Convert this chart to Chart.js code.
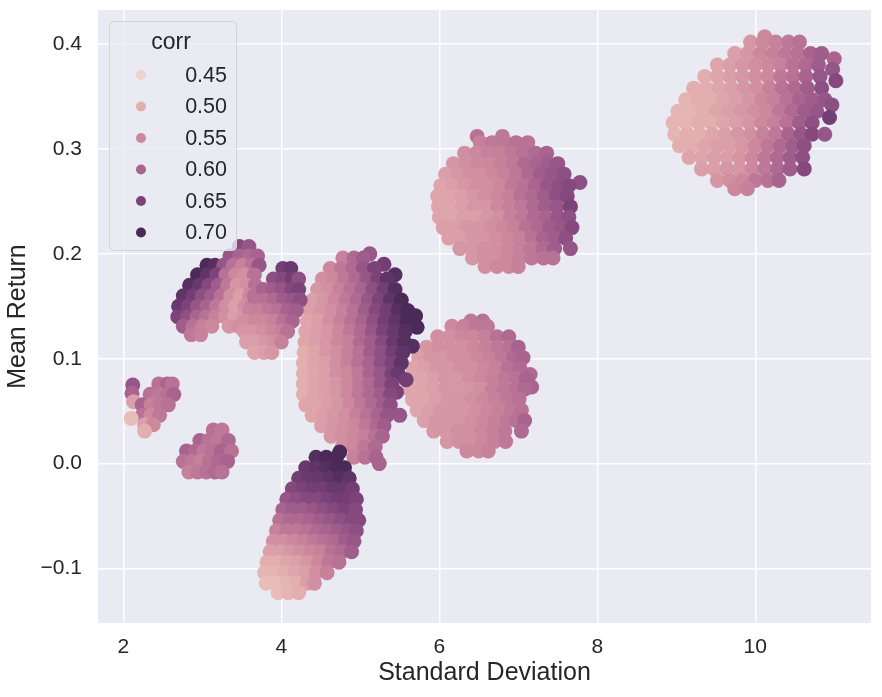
<!DOCTYPE html>
<html>
<head>
<meta charset="utf-8">
<script src="https://cdn.jsdelivr.net/npm/chart.js@4.4.1/dist/chart.umd.min.js"></script>
<style>
  html, body { margin: 0; padding: 0; background: #ffffff; }
  #wrap { width: 882px; height: 697px; }
</style>
</head>
<body>
<div id="wrap"><canvas id="chart" width="882" height="697"></canvas></div>
<script>
// Each row: [mean return, [standard deviations], [corr for each point]]
const clusterA = [
  [0.407, [10.12], [.55]],
  [0.402, [9.94, 10.10, 10.26, 10.42, 10.56], [.53, .55, .56, .57, .58]],
  [0.391, [9.74, 9.90, 10.06, 10.22, 10.38, 10.54, 10.70, 10.84], [.52, .53, .55, .56, .57, .58, .60, .61]],
  [0.386, [11.00], [.60]],
  [0.380, [9.52, 9.68, 9.84, 10.00, 10.16, 10.32, 10.48, 10.64, 10.80], [.51, .52, .53, .54, .55, .56, .58, .59, .61]],
  [0.376, [10.98], [.62]],
  [0.369, [9.36, 9.52, 9.68, 9.84, 10.00, 10.16, 10.32, 10.48, 10.64, 10.82], [.50, .51, .52, .53, .54, .55, .57, .58, .60, .62]],
  [0.365, [11.02], [.64]],
  [0.358, [9.22, 9.38, 9.54, 9.70, 9.86, 10.02, 10.18, 10.34, 10.50, 10.66, 10.84], [.50, .50, .51, .52, .53, .54, .56, .58, .59, .61, .63]],
  [0.347, [9.12, 9.28, 9.44, 9.60, 9.76, 9.92, 10.08, 10.24, 10.40, 10.56, 10.72, 10.88], [.49, .50, .50, .51, .52, .53, .55, .56, .58, .60, .61, .62]],
  [0.342, [10.97], [.63]],
  [0.336, [9.02, 9.18, 9.34, 9.50, 9.66, 9.82, 9.98, 10.14, 10.30, 10.46, 10.62, 10.78], [.49, .49, .50, .51, .52, .53, .54, .55, .57, .59, .61, .62]],
  [0.330, [10.94], [.66]],
  [0.325, [8.96, 9.12, 9.28, 9.44, 9.60, 9.76, 9.92, 10.08, 10.24, 10.40, 10.56, 10.72], [.49, .49, .50, .50, .51, .52, .53, .55, .56, .58, .61, .63]],
  [0.314, [8.98, 9.14, 9.30, 9.46, 9.62, 9.78, 9.94, 10.10, 10.26, 10.42, 10.58, 10.72, 10.88], [.49, .50, .50, .51, .52, .53, .54, .56, .57, .60, .62, .64, .62]],
  [0.303, [9.04, 9.20, 9.36, 9.52, 9.68, 9.84, 10.00, 10.16, 10.32, 10.48, 10.62], [.50, .50, .51, .52, .52, .53, .55, .57, .59, .61, .63]],
  [0.292, [9.16, 9.32, 9.48, 9.64, 9.80, 9.96, 10.12, 10.28, 10.44, 10.60], [.51, .51, .52, .52, .53, .55, .57, .59, .61, .63]],
  [0.281, [9.32, 9.48, 9.64, 9.80, 9.96, 10.12, 10.28, 10.44, 10.62], [.52, .52, .53, .53, .55, .57, .59, .61, .64]],
  [0.270, [9.52, 9.68, 9.84, 10.00, 10.16, 10.30], [.53, .54, .55, .57, .58, .60]],
  [0.262, [9.74, 9.90], [.55, .56]]
];

const clusterB = [
  [0.312, [6.48, 6.80], [.58, .57]],
  [0.306, [6.52, 6.67, 6.82, 6.97, 7.12], [.56, .57, .57, .58, .58]],
  [0.296, [6.32, 6.47, 6.62, 6.77, 6.92, 7.07, 7.22, 7.36], [.54, .55, .56, .56, .57, .58, .59, .60]],
  [0.286, [6.18, 6.33, 6.48, 6.63, 6.78, 6.93, 7.08, 7.23, 7.38, 7.50], [.53, .54, .55, .55, .56, .57, .59, .60, .61, .62]],
  [0.276, [6.08, 6.23, 6.38, 6.53, 6.68, 6.83, 6.98, 7.13, 7.28, 7.43, 7.58], [.52, .53, .54, .54, .55, .56, .57, .59, .61, .62, .63]],
  [0.268, [7.78], [.63]],
  [0.265, [6.02, 6.17, 6.32, 6.47, 6.62, 6.77, 6.92, 7.07, 7.22, 7.37, 7.52, 7.64], [.51, .52, .53, .54, .54, .55, .57, .58, .60, .62, .63, .64]],
  [0.255, [5.98, 6.13, 6.28, 6.43, 6.58, 6.73, 6.88, 7.03, 7.18, 7.33, 7.48, 7.62], [.51, .51, .52, .53, .54, .55, .56, .58, .59, .61, .63, .64]],
  [0.245, [5.99, 6.14, 6.29, 6.44, 6.59, 6.74, 6.89, 7.04, 7.19, 7.34, 7.49, 7.66], [.51, .51, .52, .53, .53, .55, .56, .57, .59, .61, .62, .65]],
  [0.235, [6.00, 6.15, 6.30, 6.45, 6.60, 6.75, 6.90, 7.05, 7.20, 7.35, 7.50, 7.64], [.51, .51, .52, .52, .53, .54, .56, .57, .59, .60, .62, .63]],
  [0.225, [6.05, 6.20, 6.35, 6.50, 6.65, 6.80, 6.95, 7.10, 7.25, 7.40, 7.55, 7.68], [.52, .52, .53, .53, .54, .55, .56, .58, .59, .61, .62, .64]],
  [0.215, [6.12, 6.27, 6.42, 6.57, 6.72, 6.87, 7.02, 7.17, 7.32, 7.47, 7.60], [.52, .52, .53, .53, .54, .55, .56, .58, .60, .61, .63]],
  [0.205, [6.26, 6.41, 6.56, 6.71, 6.86, 7.01, 7.16, 7.31, 7.46, 7.66], [.53, .53, .54, .54, .55, .56, .57, .59, .61, .62]],
  [0.196, [6.42, 6.57, 6.72, 6.87, 7.02, 7.17, 7.32, 7.44], [.53, .54, .54, .55, .56, .57, .58, .58]],
  [0.188, [6.58, 6.73, 6.88, 7.00], [.54, .55, .55, .56]]
];

const clusterC = [
  [0.136, [6.40, 6.55], [.57, .58]],
  [0.131, [6.16, 6.31, 6.46, 6.61], [.55, .56, .57, .57]],
  [0.121, [5.98, 6.13, 6.28, 6.43, 6.58, 6.73, 6.88], [.54, .54, .55, .55, .56, .58, .59]],
  [0.111, [5.84, 5.99, 6.14, 6.29, 6.44, 6.59, 6.74, 6.89, 7.00], [.53, .54, .54, .54, .55, .56, .57, .58, .60]],
  [0.101, [5.74, 5.89, 6.04, 6.19, 6.34, 6.49, 6.64, 6.79, 6.94, 7.06], [.52, .53, .53, .54, .54, .55, .56, .57, .59, .60]],
  [0.091, [5.67, 5.82, 5.97, 6.12, 6.27, 6.42, 6.57, 6.72, 6.87, 7.02], [.51, .52, .53, .53, .54, .54, .55, .56, .58, .59]],
  [0.085, [7.15], [.59]],
  [0.081, [5.63, 5.78, 5.93, 6.08, 6.23, 6.38, 6.53, 6.68, 6.83, 6.98, 7.10], [.51, .51, .52, .53, .53, .54, .55, .56, .57, .58, .60]],
  [0.073, [7.17], [.60]],
  [0.071, [5.62, 5.77, 5.92, 6.07, 6.22, 6.37, 6.52, 6.67, 6.82, 6.97, 7.08], [.51, .51, .52, .53, .53, .53, .54, .56, .57, .58, .59]],
  [0.061, [5.66, 5.81, 5.96, 6.11, 6.26, 6.41, 6.56, 6.71, 6.86, 7.01], [.51, .51, .52, .53, .53, .54, .55, .56, .57, .58]],
  [0.051, [5.72, 5.87, 6.02, 6.17, 6.32, 6.47, 6.62, 6.77, 6.92, 7.04], [.51, .52, .53, .53, .53, .54, .55, .56, .57, .58]],
  [0.041, [5.81, 5.96, 6.11, 6.26, 6.41, 6.56, 6.71, 6.86, 6.98, 7.08], [.52, .53, .53, .53, .54, .55, .56, .57, .58, .60]],
  [0.031, [5.93, 6.08, 6.23, 6.38, 6.53, 6.68, 6.83, 7.04], [.53, .53, .54, .54, .55, .56, .57, .59]],
  [0.021, [6.10, 6.25, 6.40, 6.55, 6.70, 6.84], [.53, .54, .54, .55, .56, .57]],
  [0.012, [6.35, 6.50, 6.62], [.55, .55, .56]]
];

const clusterD = [
  [0.200, [5.12], [.62]],
  [0.196, [4.78, 4.92, 5.04], [.56, .59, .61]],
  [0.190, [5.30], [.66]],
  [0.186, [4.62, 4.76, 4.90, 5.04, 5.18], [.55, .57, .59, .62, .65]],
  [0.180, [5.44], [.69]],
  [0.176, [4.52, 4.66, 4.80, 4.94, 5.08, 5.22, 5.34], [.54, .55, .57, .59, .62, .65, .68]],
  [0.166, [4.46, 4.60, 4.74, 4.88, 5.02, 5.16, 5.30, 5.44], [.53, .54, .56, .58, .60, .63, .66, .69]],
  [0.156, [4.40, 4.54, 4.68, 4.82, 4.96, 5.10, 5.24, 5.38, 5.52], [.52, .53, .55, .57, .59, .62, .65, .68, .70]],
  [0.146, [4.36, 4.50, 4.64, 4.78, 4.92, 5.06, 5.20, 5.34, 5.48, 5.60], [.52, .53, .54, .56, .58, .61, .64, .66, .69, .70]],
  [0.141, [5.70], [.70]],
  [0.136, [4.33, 4.47, 4.61, 4.75, 4.89, 5.03, 5.17, 5.31, 5.45, 5.59], [.51, .52, .54, .56, .58, .60, .63, .66, .68, .70]],
  [0.130, [5.72], [.70]],
  [0.126, [4.31, 4.45, 4.59, 4.73, 4.87, 5.01, 5.15, 5.29, 5.43, 5.57], [.51, .52, .53, .55, .57, .59, .62, .65, .67, .69]],
  [0.116, [4.30, 4.44, 4.58, 4.72, 4.86, 5.00, 5.14, 5.28, 5.42, 5.56], [.51, .52, .53, .55, .56, .59, .61, .64, .67, .69]],
  [0.112, [5.66], [.69]],
  [0.106, [4.29, 4.43, 4.57, 4.71, 4.85, 4.99, 5.13, 5.27, 5.41, 5.54], [.50, .51, .53, .54, .56, .58, .61, .63, .66, .68]],
  [0.096, [4.28, 4.42, 4.56, 4.70, 4.84, 4.98, 5.12, 5.26, 5.40, 5.52], [.50, .51, .52, .54, .56, .58, .60, .63, .65, .68]],
  [0.086, [4.28, 4.42, 4.56, 4.70, 4.84, 4.98, 5.12, 5.26, 5.40, 5.48], [.50, .51, .52, .54, .55, .57, .60, .62, .65, .67]],
  [0.080, [5.58], [.66]],
  [0.076, [4.28, 4.42, 4.56, 4.70, 4.84, 4.98, 5.12, 5.26, 5.40], [.50, .51, .52, .53, .55, .57, .59, .62, .65]],
  [0.068, [5.46], [.65]],
  [0.066, [4.28, 4.42, 4.56, 4.70, 4.84, 4.98, 5.12, 5.26, 5.38], [.50, .51, .52, .53, .55, .57, .59, .61, .64]],
  [0.056, [4.31, 4.45, 4.59, 4.73, 4.87, 5.01, 5.15, 5.29, 5.38], [.51, .51, .52, .53, .55, .57, .59, .61, .63]],
  [0.046, [4.39, 4.53, 4.67, 4.81, 4.95, 5.09, 5.23, 5.34, 5.50], [.51, .52, .53, .54, .56, .58, .60, .62, .62]],
  [0.036, [4.51, 4.65, 4.79, 4.93, 5.07, 5.21, 5.30], [.52, .53, .54, .55, .57, .59, .61]],
  [0.026, [4.63, 4.77, 4.91, 5.05, 5.19, 5.28], [.53, .54, .55, .56, .58, .60]],
  [0.016, [4.77, 4.91, 5.05, 5.19], [.54, .55, .57, .59]],
  [0.006, [4.92, 5.06, 5.20], [.56, .58, .60]],
  [0.000, [5.24], [.60]]
];

const clusterE = [
  [0.011, [4.74], [.70]],
  [0.006, [4.44, 4.57, 4.70], [.69, .70, .70]],
  [-0.004, [4.31, 4.44, 4.57, 4.70, 4.80], [.67, .68, .69, .70, .70]],
  [-0.014, [4.22, 4.35, 4.48, 4.61, 4.74, 4.86], [.66, .67, .67, .68, .69, .68]],
  [-0.024, [4.14, 4.27, 4.40, 4.53, 4.66, 4.79, 4.90], [.64, .65, .66, .66, .67, .67, .66]],
  [-0.034, [4.07, 4.20, 4.33, 4.46, 4.59, 4.72, 4.85, 4.95], [.62, .63, .64, .64, .65, .66, .66, .65]],
  [-0.044, [4.02, 4.15, 4.28, 4.41, 4.54, 4.67, 4.80, 4.94], [.60, .61, .61, .62, .63, .64, .65, .64]],
  [-0.054, [3.98, 4.11, 4.24, 4.37, 4.50, 4.63, 4.76, 4.89, 4.98], [.58, .59, .59, .60, .61, .62, .63, .64, .64]],
  [-0.064, [3.94, 4.07, 4.20, 4.33, 4.46, 4.59, 4.72, 4.85, 4.95], [.56, .57, .57, .58, .59, .60, .61, .62, .63]],
  [-0.074, [3.90, 4.03, 4.16, 4.29, 4.42, 4.55, 4.68, 4.81, 4.92], [.54, .54, .55, .56, .57, .58, .59, .61, .62]],
  [-0.084, [3.86, 3.99, 4.12, 4.25, 4.38, 4.51, 4.64, 4.77, 4.89], [.52, .52, .53, .54, .55, .56, .58, .59, .61]],
  [-0.094, [3.82, 3.95, 4.08, 4.21, 4.34, 4.47, 4.60, 4.73], [.50, .50, .51, .52, .53, .55, .57, .58]],
  [-0.104, [3.79, 3.92, 4.05, 4.18, 4.31, 4.44, 4.58], [.49, .49, .50, .51, .52, .54, .56]],
  [-0.114, [3.81, 3.94, 4.07, 4.20, 4.33, 4.42], [.48, .48, .49, .50, .52, .54]],
  [-0.123, [3.96, 4.09, 4.22], [.48, .49, .50]]
];

const clusterF = [
  [0.207, [3.47, 3.59], [.64, .62]],
  [0.198, [3.35, 3.47, 3.59, 3.70], [.62, .60, .59, .60]],
  [0.189, [3.06, 3.16, 3.27, 3.39, 3.51, 3.63, 3.72], [.70, .69, .62, .58, .56, .58, .62]],
  [0.180, [2.94, 3.06, 3.18, 3.30, 3.42, 3.54, 3.66], [.70, .68, .65, .58, .55, .54, .58]],
  [0.170, [2.84, 2.96, 3.08, 3.20, 3.32, 3.44, 3.56, 3.67], [.69, .67, .64, .61, .57, .53, .54, .58]],
  [0.160, [2.76, 2.88, 3.00, 3.12, 3.24, 3.36, 3.48, 3.60, 3.66], [.68, .66, .63, .61, .58, .54, .52, .55, .58]],
  [0.150, [2.70, 2.82, 2.94, 3.06, 3.18, 3.30, 3.42, 3.54, 3.62], [.67, .65, .62, .60, .57, .54, .52, .54, .56]],
  [0.140, [2.69, 2.81, 2.93, 3.05, 3.17, 3.29, 3.41, 3.53], [.65, .63, .60, .58, .56, .54, .52, .53]],
  [0.131, [2.76, 2.88, 3.00, 3.12, 3.34, 3.46], [.61, .58, .56, .55, .53, .54]],
  [0.123, [2.86, 2.98], [.57, .56]],
  // right-hand blob
  [0.186, [4.02, 4.12], [.66, .67]],
  [0.176, [3.90, 4.02, 4.14, 4.22], [.63, .64, .66, .63]],
  [0.166, [3.77, 3.89, 4.01, 4.13, 4.22], [.60, .61, .62, .64, .65]],
  [0.156, [3.67, 3.79, 3.91, 4.03, 4.15, 4.24], [.58, .58, .59, .61, .62, .63]],
  [0.146, [3.60, 3.72, 3.84, 3.96, 4.08, 4.19], [.56, .56, .57, .58, .60, .61]],
  [0.136, [3.55, 3.67, 3.79, 3.91, 4.03, 4.14], [.54, .55, .55, .56, .58, .60]],
  [0.126, [3.53, 3.65, 3.77, 3.89, 4.01, 4.08], [.53, .53, .54, .55, .56, .58]],
  [0.116, [3.56, 3.68, 3.80, 3.92, 4.00], [.52, .52, .53, .54, .56]],
  [0.106, [3.66, 3.78, 3.88], [.51, .52, .53]]
];

const clusterG = [
  [0.076, [2.45, 2.56, 2.62], [.58, .60, .58]],
  [0.075, [2.12], [.62]],
  [0.067, [2.11], [.60]],
  [0.066, [2.34, 2.45, 2.56, 2.64], [.58, .57, .58, .60]],
  [0.059, [2.13], [.52]],
  [0.056, [2.24, 2.35, 2.46, 2.57], [.60, .56, .57, .58]],
  [0.046, [2.24, 2.35, 2.46], [.58, .55, .57]],
  [0.043, [2.10], [.48]],
  [0.037, [2.27, 2.38], [.52, .55]],
  [0.031, [2.27], [.50]],
  // lower small blob
  [0.032, [3.14, 3.25], [.58, .57]],
  [0.022, [2.97, 3.08, 3.19, 3.33], [.60, .58, .57, .59]],
  [0.012, [2.80, 2.91, 3.02, 3.13, 3.24, 3.37], [.60, .59, .57, .58, .60, .58]],
  [0.002, [2.76, 2.87, 2.98, 3.09, 3.20, 3.32], [.58, .57, .56, .58, .59, .60]],
  [-0.008, [2.83, 2.94, 3.05, 3.16, 3.25], [.56, .57, .58, .59, .58]]
];

const legendCorr = [0.45, 0.50, 0.55, 0.60, 0.65, 0.70];
const xTicks = [2, 4, 6, 8, 10];
const yTicks = [-0.1, 0.0, 0.1, 0.2, 0.3, 0.4];

// colour ramp
const rampStops = [
  [0.40, [246, 226, 216]],
  [0.45, [239, 210, 201]],
  [0.50, [226, 174, 174]],
  [0.55, [205, 136, 158]],
  [0.60, [168, 99, 143]],
  [0.65, [124, 67, 122]],
  [0.70, [75, 42, 88]],
  [0.75, [46, 26, 62]]
];

function corrColor(c) {
  if (c <= rampStops[0][0]) return 'rgb(' + rampStops[0][1].join(',') + ')';
  for (let i = 1; i < rampStops.length; i++) {
    const [c1, col1] = rampStops[i];
    const [c0, col0] = rampStops[i - 1];
    if (c <= c1) {
      const t = (c - c0) / (c1 - c0);
      const rgb = col0.map((v, k) => Math.round(v + (col1[k] - v) * t));
      return 'rgb(' + rgb.join(',') + ')';
    }
  }
  return 'rgb(' + rampStops[rampStops.length - 1][1].join(',') + ')';
}

function toPoints(rows) {
  const pts = [];
  rows.forEach(([y, xs, cs]) => {
    xs.forEach((x, i) => pts.push({ x: x, y: y, c: cs[i] }));
  });
  return pts;
}

const points = [clusterA, clusterB, clusterC, clusterD, clusterE, clusterF, clusterG]
  .map(toPoints)
  .flat();

const textColor = '#262626';
const fontFamily = '"Liberation Sans", Arial, sans-serif';

const plotBackground = {
  id: 'plotBackground',
  beforeDraw(chart) {
    const { ctx, chartArea } = chart;
    ctx.save();
    ctx.fillStyle = '#eaeaf2';
    ctx.fillRect(chartArea.left, chartArea.top, chartArea.right - chartArea.left, chartArea.bottom - chartArea.top);
    ctx.restore();
  }
};

// seaborn style legend, inside the axes at upper left
const corrLegend = {
  id: 'corrLegend',
  afterDraw(chart) {
    const ctx = chart.ctx;
    ctx.save();
    ctx.beginPath();
    ctx.roundRect(109.5, 21.5, 127, 229, 4);
    ctx.fillStyle = 'rgba(234, 234, 242, 0.8)';
    ctx.fill();
    ctx.strokeStyle = '#d3d3d8';
    ctx.lineWidth = 1;
    ctx.stroke();

    ctx.fillStyle = textColor;
    ctx.textBaseline = 'middle';
    ctx.textAlign = 'center';
    ctx.font = '23px ' + fontFamily;
    ctx.fillText('corr', 171, 43);

    ctx.font = '21.5px ' + fontFamily;
    ctx.textAlign = 'right';
    legendCorr.forEach((c, i) => {
      const y = 75 + i * 31.5;
      ctx.beginPath();
      ctx.arc(141, y, 5, 0, Math.PI * 2);
      ctx.fillStyle = corrColor(c);
      ctx.fill();
      ctx.fillStyle = textColor;
      ctx.fillText(c.toFixed(2), 227, y + 1);
    });
    ctx.restore();
  }
};

new Chart(document.getElementById('chart'), {
  type: 'scatter',
  data: {
    datasets: [{
      label: 'corr',
      data: points,
      pointBackgroundColor: points.map(p => corrColor(p.c)),
      pointBorderWidth: 0,
      pointRadius: 7.5,
      pointHoverRadius: 7.5
    }]
  },
  options: {
    responsive: false,
    animation: false,
    layout: { padding: { top: 10, right: 11, left: 0, bottom: 0 } },
    plugins: {
      legend: { display: false },
      tooltip: { enabled: false }
    },
    scales: {
      x: {
        type: 'linear',
        min: 1.68,
        max: 11.465,
        afterBuildTicks: scale => { scale.ticks = xTicks.map(v => ({ value: v })); },
        afterFit: scale => {
          scale.height = 74;
          scale.paddingLeft = 0;
          scale.paddingRight = 0;
        },
        grid: { color: '#ffffff', lineWidth: 1.5, drawTicks: false },
        border: { display: false },
        ticks: {
          color: textColor,
          font: { family: fontFamily, size: 21 },
          padding: 12,
          maxRotation: 0,
          callback: v => String(v)
        },
        title: {
          display: true,
          text: 'Standard Deviation',
          color: textColor,
          font: { family: fontFamily, size: 25 },
          padding: { top: 0, bottom: 9 }
        }
      },
      y: {
        type: 'linear',
        min: -0.152,
        max: 0.4325,
        afterBuildTicks: scale => { scale.ticks = yTicks.map(v => ({ value: v })); },
        afterFit: scale => {
          scale.width = 98;
          scale.paddingTop = 0;
          scale.paddingBottom = 0;
        },
        grid: { color: '#ffffff', lineWidth: 1.5, drawTicks: false },
        border: { display: false },
        ticks: {
          color: textColor,
          font: { family: fontFamily, size: 21 },
          padding: 16,
          callback: v => v.toFixed(1).replace('-', '\u2212')
        },
        title: {
          display: true,
          text: 'Mean Return',
          color: textColor,
          font: { family: fontFamily, size: 25 },
          padding: { top: 3, bottom: 0 }
        }
      }
    }
  },
  plugins: [plotBackground, corrLegend]
});
</script>
</body>
</html>
